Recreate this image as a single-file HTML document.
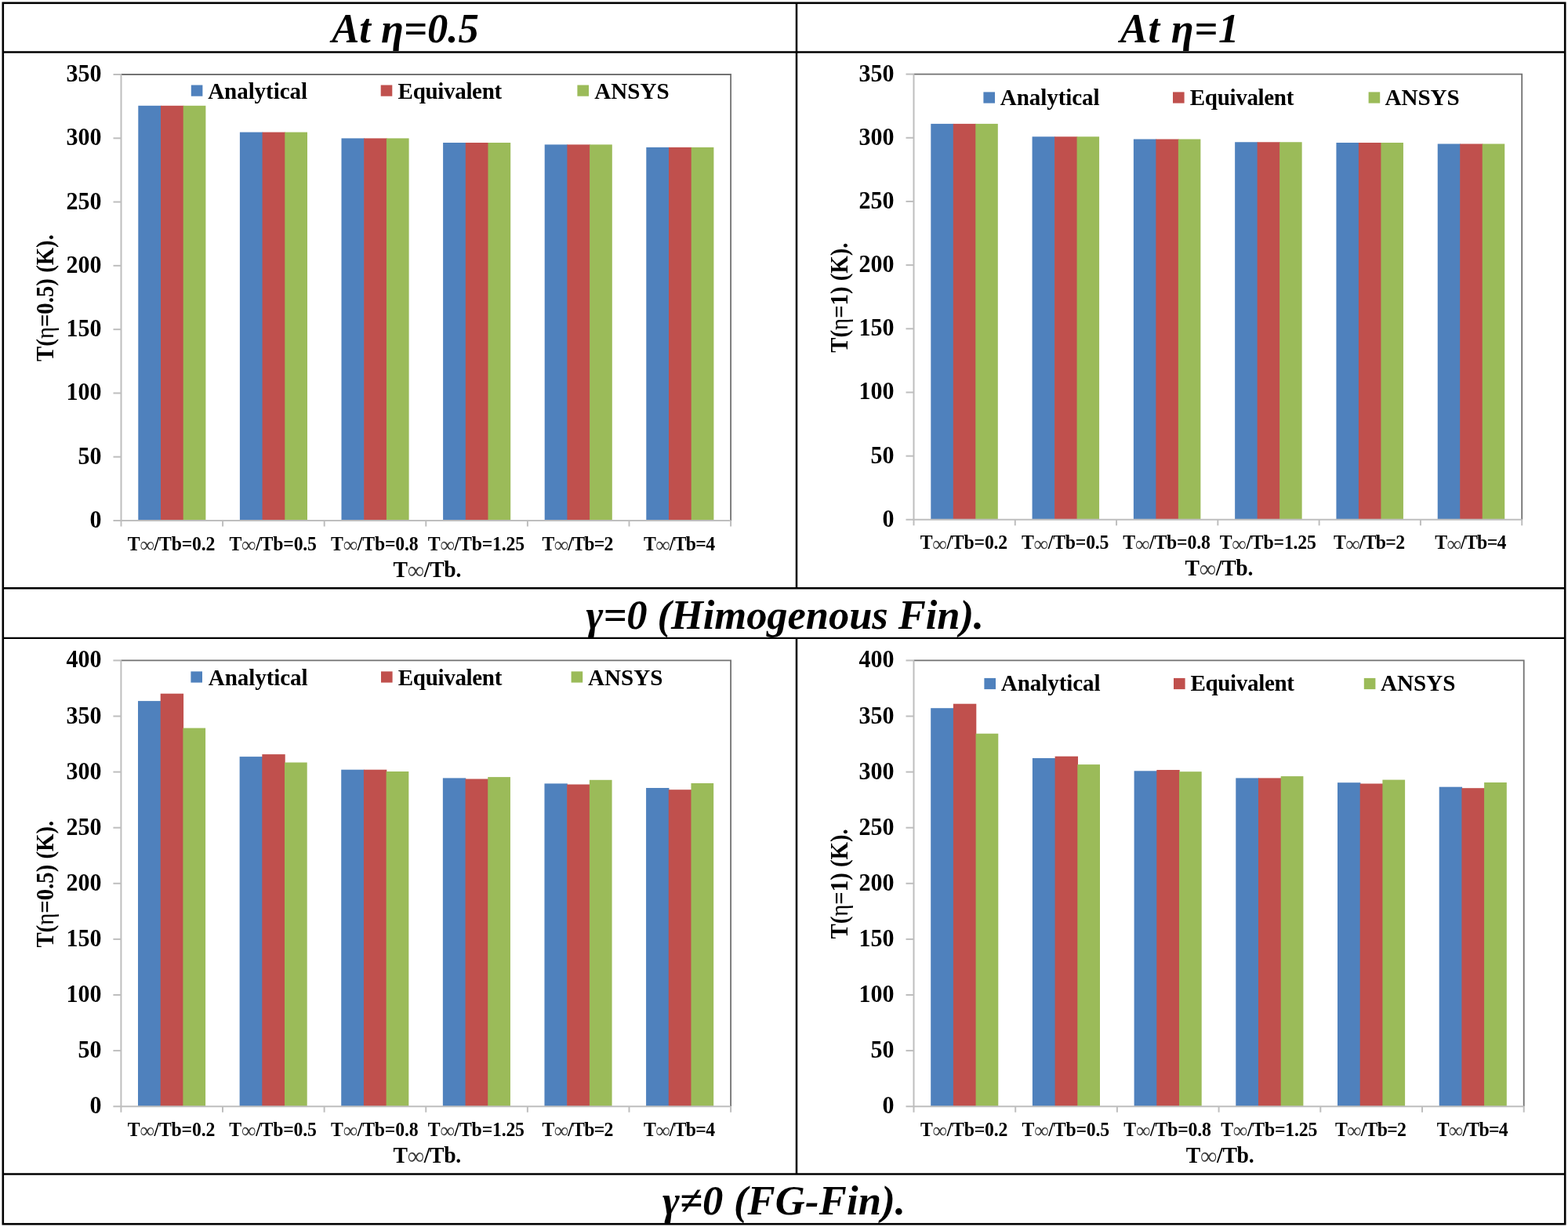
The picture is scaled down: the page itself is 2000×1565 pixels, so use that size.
<!DOCTYPE html>
<html><head><meta charset="utf-8"><title>Fin temperature comparison</title>
<style>
html,body{margin:0;padding:0;background:#fff;}
body{width:2000px;height:1565px;overflow:hidden;}
svg{display:block;}
text{font-family:'Liberation Serif', 'Times New Roman', serif;font-weight:bold;fill:#000;}
.yl{font-size:30.0px;text-anchor:end;}
.xl{font-size:23.8px;text-anchor:middle;letter-spacing:-0.2px;}
.xt{font-size:27.7px;text-anchor:middle;letter-spacing:-0.3px;}
.yt{font-size:28.8px;text-anchor:middle;}
.lg{font-size:29.1px;}
.inf{font-weight:normal;fill:#3a3a3a;font-size:1.08em;}
.eta{font-weight:normal;}
.hd{font-size:52.6px;font-style:italic;text-anchor:middle;}
</style></head>
<body>
<svg width="2000" height="1565" viewBox="0 0 2000 1565">
<rect width="2000" height="1565" fill="#fff"/>
<rect x="176.3" y="134.8" width="29.4" height="529.2" fill="#4F81BD"/>
<rect x="205" y="134.8" width="29.4" height="529.2" fill="#C0504D"/>
<rect x="233.7" y="134.8" width="28.7" height="529.2" fill="#9BBB59"/>
<rect x="305.9" y="168.6" width="29.4" height="495.4" fill="#4F81BD"/>
<rect x="334.6" y="168.6" width="29.4" height="495.4" fill="#C0504D"/>
<rect x="363.3" y="168.6" width="28.7" height="495.4" fill="#9BBB59"/>
<rect x="435.5" y="176.4" width="29.4" height="487.6" fill="#4F81BD"/>
<rect x="464.2" y="176.4" width="29.4" height="487.6" fill="#C0504D"/>
<rect x="492.9" y="176.4" width="28.7" height="487.6" fill="#9BBB59"/>
<rect x="565.1" y="182" width="29.4" height="482" fill="#4F81BD"/>
<rect x="593.8" y="182" width="29.4" height="482" fill="#C0504D"/>
<rect x="622.5" y="182" width="28.7" height="482" fill="#9BBB59"/>
<rect x="694.7" y="184.4" width="29.4" height="479.6" fill="#4F81BD"/>
<rect x="723.4" y="184.4" width="29.4" height="479.6" fill="#C0504D"/>
<rect x="752.1" y="184.4" width="28.7" height="479.6" fill="#9BBB59"/>
<rect x="824.3" y="187.9" width="29.4" height="476.1" fill="#4F81BD"/>
<rect x="853" y="187.9" width="29.4" height="476.1" fill="#C0504D"/>
<rect x="881.7" y="187.9" width="28.7" height="476.1" fill="#9BBB59"/>
<path d="M154.5 95 H932.1 V664" fill="none" stroke="#727272" stroke-width="1.8"/>
<path d="M154.5 95 V671.5" stroke="#BEBEBE" stroke-width="2"/>
<path d="M144.5 664 H932.1" stroke="#BEBEBE" stroke-width="2"/>
<text transform="translate(129.5 673) scale(1 1.050)" class="yl">0</text>
<path d="M144.5 582.71 H154.5" stroke="#BEBEBE" stroke-width="2"/>
<text transform="translate(129.5 591.71) scale(1 1.050)" class="yl">50</text>
<path d="M144.5 501.43 H154.5" stroke="#BEBEBE" stroke-width="2"/>
<text transform="translate(129.5 510.43) scale(1 1.050)" class="yl">100</text>
<path d="M144.5 420.14 H154.5" stroke="#BEBEBE" stroke-width="2"/>
<text transform="translate(129.5 429.14) scale(1 1.050)" class="yl">150</text>
<path d="M144.5 338.86 H154.5" stroke="#BEBEBE" stroke-width="2"/>
<text transform="translate(129.5 347.86) scale(1 1.050)" class="yl">200</text>
<path d="M144.5 257.57 H154.5" stroke="#BEBEBE" stroke-width="2"/>
<text transform="translate(129.5 266.57) scale(1 1.050)" class="yl">250</text>
<path d="M144.5 176.29 H154.5" stroke="#BEBEBE" stroke-width="2"/>
<text transform="translate(129.5 185.29) scale(1 1.050)" class="yl">300</text>
<path d="M144.5 95 H154.5" stroke="#BEBEBE" stroke-width="2"/>
<text transform="translate(129.5 104) scale(1 1.050)" class="yl">350</text>
<path d="M284.1 664 V671.5" stroke="#BEBEBE" stroke-width="2"/>
<path d="M413.7 664 V671.5" stroke="#BEBEBE" stroke-width="2"/>
<path d="M543.3 664 V671.5" stroke="#BEBEBE" stroke-width="2"/>
<path d="M672.9 664 V671.5" stroke="#BEBEBE" stroke-width="2"/>
<path d="M802.5 664 V671.5" stroke="#BEBEBE" stroke-width="2"/>
<path d="M932.1 664 V671.5" stroke="#BEBEBE" stroke-width="2"/>
<text transform="translate(218.5 701.6) scale(1 1.070)" class="xl">T<tspan class="inf" dy="2">∞</tspan><tspan dy="-2">/</tspan>Tb=0.2</text>
<text transform="translate(348.1 701.6) scale(1 1.070)" class="xl">T<tspan class="inf" dy="2">∞</tspan><tspan dy="-2">/</tspan>Tb=0.5</text>
<text transform="translate(477.7 701.6) scale(1 1.070)" class="xl">T<tspan class="inf" dy="2">∞</tspan><tspan dy="-2">/</tspan>Tb=0.8</text>
<text transform="translate(607.3 701.6) scale(1 1.070)" class="xl">T<tspan class="inf" dy="2">∞</tspan><tspan dy="-2">/</tspan>Tb=1.25</text>
<text transform="translate(736.9 701.6) scale(1 1.070)" class="xl" textLength="90.8">T<tspan class="inf" dy="2">∞</tspan><tspan dy="-2">/</tspan>Tb=2</text>
<text transform="translate(866.5 701.6) scale(1 1.070)" class="xl" textLength="90.8">T<tspan class="inf" dy="2">∞</tspan><tspan dy="-2">/</tspan>Tb=4</text>
<text transform="translate(544.8 735.5) scale(1 1.060)" class="xt">T<tspan class="inf" dy="2">∞</tspan><tspan dy="-2">/</tspan>Tb.</text>
<text transform="translate(67.7 380) rotate(-90) scale(1 1.085)" class="yt">T(<tspan class="eta">η</tspan>=0.5) (K).</text>
<rect x="243.8" y="108.5" width="14.6" height="14.2" fill="#4F81BD"/>
<text transform="translate(265.2 125.8) scale(1 1.040)" class="lg" textLength="126.8">Analytical</text>
<rect x="485.7" y="108.5" width="14.6" height="14.2" fill="#C0504D"/>
<text transform="translate(507.6 125.8) scale(1 1.040)" class="lg" textLength="132.6">Equivalent</text>
<rect x="736.4" y="108.5" width="14.6" height="14.2" fill="#9BBB59"/>
<text transform="translate(758.3 125.8) scale(1 1.040)" class="lg">ANSYS</text>
<rect x="1187.3" y="157.9" width="29.2" height="504.9" fill="#4F81BD"/>
<rect x="1215.8" y="157.9" width="29.2" height="504.9" fill="#C0504D"/>
<rect x="1244.3" y="157.9" width="28.5" height="504.9" fill="#9BBB59"/>
<rect x="1316.58" y="174.3" width="29.2" height="488.5" fill="#4F81BD"/>
<rect x="1345.08" y="174.3" width="29.2" height="488.5" fill="#C0504D"/>
<rect x="1373.58" y="174.3" width="28.5" height="488.5" fill="#9BBB59"/>
<rect x="1445.87" y="177.5" width="29.2" height="485.3" fill="#4F81BD"/>
<rect x="1474.37" y="177.5" width="29.2" height="485.3" fill="#C0504D"/>
<rect x="1502.87" y="177.5" width="28.5" height="485.3" fill="#9BBB59"/>
<rect x="1575.15" y="181.25" width="29.2" height="481.55" fill="#4F81BD"/>
<rect x="1603.65" y="181.25" width="29.2" height="481.55" fill="#C0504D"/>
<rect x="1632.15" y="181.25" width="28.5" height="481.55" fill="#9BBB59"/>
<rect x="1704.43" y="182" width="29.2" height="480.8" fill="#4F81BD"/>
<rect x="1732.93" y="182" width="29.2" height="480.8" fill="#C0504D"/>
<rect x="1761.43" y="182" width="28.5" height="480.8" fill="#9BBB59"/>
<rect x="1833.72" y="183.5" width="29.2" height="479.3" fill="#4F81BD"/>
<rect x="1862.22" y="183.5" width="29.2" height="479.3" fill="#C0504D"/>
<rect x="1890.72" y="183.5" width="28.5" height="479.3" fill="#9BBB59"/>
<path d="M1165.5 94.6 H1941.2 V662.8" fill="none" stroke="#727272" stroke-width="1.8"/>
<path d="M1165.5 94.6 V670.3" stroke="#BEBEBE" stroke-width="2"/>
<path d="M1155.5 662.8 H1941.2" stroke="#BEBEBE" stroke-width="2"/>
<text transform="translate(1140.5 671.8) scale(1 1.050)" class="yl">0</text>
<path d="M1155.5 581.63 H1165.5" stroke="#BEBEBE" stroke-width="2"/>
<text transform="translate(1140.5 590.63) scale(1 1.050)" class="yl">50</text>
<path d="M1155.5 500.46 H1165.5" stroke="#BEBEBE" stroke-width="2"/>
<text transform="translate(1140.5 509.46) scale(1 1.050)" class="yl">100</text>
<path d="M1155.5 419.29 H1165.5" stroke="#BEBEBE" stroke-width="2"/>
<text transform="translate(1140.5 428.29) scale(1 1.050)" class="yl">150</text>
<path d="M1155.5 338.11 H1165.5" stroke="#BEBEBE" stroke-width="2"/>
<text transform="translate(1140.5 347.11) scale(1 1.050)" class="yl">200</text>
<path d="M1155.5 256.94 H1165.5" stroke="#BEBEBE" stroke-width="2"/>
<text transform="translate(1140.5 265.94) scale(1 1.050)" class="yl">250</text>
<path d="M1155.5 175.77 H1165.5" stroke="#BEBEBE" stroke-width="2"/>
<text transform="translate(1140.5 184.77) scale(1 1.050)" class="yl">300</text>
<path d="M1155.5 94.6 H1165.5" stroke="#BEBEBE" stroke-width="2"/>
<text transform="translate(1140.5 103.6) scale(1 1.050)" class="yl">350</text>
<path d="M1294.78 662.8 V670.3" stroke="#BEBEBE" stroke-width="2"/>
<path d="M1424.07 662.8 V670.3" stroke="#BEBEBE" stroke-width="2"/>
<path d="M1553.35 662.8 V670.3" stroke="#BEBEBE" stroke-width="2"/>
<path d="M1682.63 662.8 V670.3" stroke="#BEBEBE" stroke-width="2"/>
<path d="M1811.92 662.8 V670.3" stroke="#BEBEBE" stroke-width="2"/>
<path d="M1941.2 662.8 V670.3" stroke="#BEBEBE" stroke-width="2"/>
<text transform="translate(1229.34 700.4) scale(1 1.070)" class="xl">T<tspan class="inf" dy="2">∞</tspan><tspan dy="-2">/</tspan>Tb=0.2</text>
<text transform="translate(1358.62 700.4) scale(1 1.070)" class="xl">T<tspan class="inf" dy="2">∞</tspan><tspan dy="-2">/</tspan>Tb=0.5</text>
<text transform="translate(1487.91 700.4) scale(1 1.070)" class="xl">T<tspan class="inf" dy="2">∞</tspan><tspan dy="-2">/</tspan>Tb=0.8</text>
<text transform="translate(1617.19 700.4) scale(1 1.070)" class="xl">T<tspan class="inf" dy="2">∞</tspan><tspan dy="-2">/</tspan>Tb=1.25</text>
<text transform="translate(1746.48 700.4) scale(1 1.070)" class="xl" textLength="90.8">T<tspan class="inf" dy="2">∞</tspan><tspan dy="-2">/</tspan>Tb=2</text>
<text transform="translate(1875.76 700.4) scale(1 1.070)" class="xl" textLength="90.8">T<tspan class="inf" dy="2">∞</tspan><tspan dy="-2">/</tspan>Tb=4</text>
<text transform="translate(1554.85 734.3) scale(1 1.060)" class="xt">T<tspan class="inf" dy="2">∞</tspan><tspan dy="-2">/</tspan>Tb.</text>
<text transform="translate(1081 379.6) rotate(-90) scale(1 1.085)" class="yt">T(<tspan class="eta">η</tspan>=1) (K).</text>
<rect x="1254.4" y="117.4" width="14.6" height="14.2" fill="#4F81BD"/>
<text transform="translate(1275.8 134) scale(1 1.040)" class="lg" textLength="126.8">Analytical</text>
<rect x="1496" y="117.4" width="14.6" height="14.2" fill="#C0504D"/>
<text transform="translate(1517.8 134) scale(1 1.040)" class="lg" textLength="132.6">Equivalent</text>
<rect x="1745.6" y="117.4" width="14.6" height="14.2" fill="#9BBB59"/>
<text transform="translate(1766.4 134) scale(1 1.040)" class="lg">ANSYS</text>
<rect x="176" y="894.1" width="29.4" height="517.1" fill="#4F81BD"/>
<rect x="204.7" y="884.7" width="29.4" height="526.5" fill="#C0504D"/>
<rect x="233.4" y="928.6" width="28.7" height="482.6" fill="#9BBB59"/>
<rect x="305.62" y="965.1" width="29.4" height="446.1" fill="#4F81BD"/>
<rect x="334.32" y="962.1" width="29.4" height="449.1" fill="#C0504D"/>
<rect x="363.02" y="972.5" width="28.7" height="438.7" fill="#9BBB59"/>
<rect x="435.23" y="981.7" width="29.4" height="429.5" fill="#4F81BD"/>
<rect x="463.93" y="981.7" width="29.4" height="429.5" fill="#C0504D"/>
<rect x="492.63" y="984" width="28.7" height="427.2" fill="#9BBB59"/>
<rect x="564.85" y="992.4" width="29.4" height="418.8" fill="#4F81BD"/>
<rect x="593.55" y="993.5" width="29.4" height="417.7" fill="#C0504D"/>
<rect x="622.25" y="991.1" width="28.7" height="420.1" fill="#9BBB59"/>
<rect x="694.47" y="999.4" width="29.4" height="411.8" fill="#4F81BD"/>
<rect x="723.17" y="1000.5" width="29.4" height="410.7" fill="#C0504D"/>
<rect x="751.87" y="994.8" width="28.7" height="416.4" fill="#9BBB59"/>
<rect x="824.08" y="1005" width="29.4" height="406.2" fill="#4F81BD"/>
<rect x="852.78" y="1007.2" width="29.4" height="404" fill="#C0504D"/>
<rect x="881.48" y="999" width="28.7" height="412.2" fill="#9BBB59"/>
<path d="M154.4 842.4 H932.1 V1411.2" fill="none" stroke="#727272" stroke-width="1.8"/>
<path d="M154.4 842.4 V1418.7" stroke="#BEBEBE" stroke-width="2"/>
<path d="M144.4 1411.2 H932.1" stroke="#BEBEBE" stroke-width="2"/>
<text transform="translate(129.4 1420.2) scale(1 1.050)" class="yl">0</text>
<path d="M144.4 1340.1 H154.4" stroke="#BEBEBE" stroke-width="2"/>
<text transform="translate(129.4 1349.1) scale(1 1.050)" class="yl">50</text>
<path d="M144.4 1269 H154.4" stroke="#BEBEBE" stroke-width="2"/>
<text transform="translate(129.4 1278) scale(1 1.050)" class="yl">100</text>
<path d="M144.4 1197.9 H154.4" stroke="#BEBEBE" stroke-width="2"/>
<text transform="translate(129.4 1206.9) scale(1 1.050)" class="yl">150</text>
<path d="M144.4 1126.8 H154.4" stroke="#BEBEBE" stroke-width="2"/>
<text transform="translate(129.4 1135.8) scale(1 1.050)" class="yl">200</text>
<path d="M144.4 1055.7 H154.4" stroke="#BEBEBE" stroke-width="2"/>
<text transform="translate(129.4 1064.7) scale(1 1.050)" class="yl">250</text>
<path d="M144.4 984.6 H154.4" stroke="#BEBEBE" stroke-width="2"/>
<text transform="translate(129.4 993.6) scale(1 1.050)" class="yl">300</text>
<path d="M144.4 913.5 H154.4" stroke="#BEBEBE" stroke-width="2"/>
<text transform="translate(129.4 922.5) scale(1 1.050)" class="yl">350</text>
<path d="M144.4 842.4 H154.4" stroke="#BEBEBE" stroke-width="2"/>
<text transform="translate(129.4 851.4) scale(1 1.050)" class="yl">400</text>
<path d="M284.02 1411.2 V1418.7" stroke="#BEBEBE" stroke-width="2"/>
<path d="M413.63 1411.2 V1418.7" stroke="#BEBEBE" stroke-width="2"/>
<path d="M543.25 1411.2 V1418.7" stroke="#BEBEBE" stroke-width="2"/>
<path d="M672.87 1411.2 V1418.7" stroke="#BEBEBE" stroke-width="2"/>
<path d="M802.48 1411.2 V1418.7" stroke="#BEBEBE" stroke-width="2"/>
<path d="M932.1 1411.2 V1418.7" stroke="#BEBEBE" stroke-width="2"/>
<text transform="translate(218.41 1448.8) scale(1 1.070)" class="xl">T<tspan class="inf" dy="2">∞</tspan><tspan dy="-2">/</tspan>Tb=0.2</text>
<text transform="translate(348.03 1448.8) scale(1 1.070)" class="xl">T<tspan class="inf" dy="2">∞</tspan><tspan dy="-2">/</tspan>Tb=0.5</text>
<text transform="translate(477.64 1448.8) scale(1 1.070)" class="xl">T<tspan class="inf" dy="2">∞</tspan><tspan dy="-2">/</tspan>Tb=0.8</text>
<text transform="translate(607.26 1448.8) scale(1 1.070)" class="xl">T<tspan class="inf" dy="2">∞</tspan><tspan dy="-2">/</tspan>Tb=1.25</text>
<text transform="translate(736.88 1448.8) scale(1 1.070)" class="xl" textLength="90.8">T<tspan class="inf" dy="2">∞</tspan><tspan dy="-2">/</tspan>Tb=2</text>
<text transform="translate(866.49 1448.8) scale(1 1.070)" class="xl" textLength="90.8">T<tspan class="inf" dy="2">∞</tspan><tspan dy="-2">/</tspan>Tb=4</text>
<text transform="translate(544.75 1482.7) scale(1 1.060)" class="xt">T<tspan class="inf" dy="2">∞</tspan><tspan dy="-2">/</tspan>Tb.</text>
<text transform="translate(67.7 1127.7) rotate(-90) scale(1 1.085)" class="yt">T(<tspan class="eta">η</tspan>=0.5) (K).</text>
<rect x="243.4" y="856.4" width="14.6" height="14.2" fill="#4F81BD"/>
<text transform="translate(265.8 873.8) scale(1 1.040)" class="lg" textLength="126.8">Analytical</text>
<rect x="486" y="856.4" width="14.6" height="14.2" fill="#C0504D"/>
<text transform="translate(507.8 873.8) scale(1 1.040)" class="lg" textLength="132.6">Equivalent</text>
<rect x="728.6" y="856.4" width="14.6" height="14.2" fill="#9BBB59"/>
<text transform="translate(750 873.8) scale(1 1.040)" class="lg">ANSYS</text>
<rect x="1187.2" y="903.2" width="29.4" height="508" fill="#4F81BD"/>
<rect x="1215.9" y="897.7" width="29.4" height="513.5" fill="#C0504D"/>
<rect x="1244.6" y="935.7" width="28.7" height="475.5" fill="#9BBB59"/>
<rect x="1316.9" y="967" width="29.4" height="444.2" fill="#4F81BD"/>
<rect x="1345.6" y="964.7" width="29.4" height="446.5" fill="#C0504D"/>
<rect x="1374.3" y="975.1" width="28.7" height="436.1" fill="#9BBB59"/>
<rect x="1446.6" y="983.3" width="29.4" height="427.9" fill="#4F81BD"/>
<rect x="1475.3" y="982" width="29.4" height="429.2" fill="#C0504D"/>
<rect x="1504" y="984.2" width="28.7" height="427" fill="#9BBB59"/>
<rect x="1576.3" y="992.4" width="29.4" height="418.8" fill="#4F81BD"/>
<rect x="1605" y="992.4" width="29.4" height="418.8" fill="#C0504D"/>
<rect x="1633.7" y="990.1" width="28.7" height="421.1" fill="#9BBB59"/>
<rect x="1706" y="998.2" width="29.4" height="413" fill="#4F81BD"/>
<rect x="1734.7" y="999.5" width="29.4" height="411.7" fill="#C0504D"/>
<rect x="1763.4" y="994.6" width="28.7" height="416.6" fill="#9BBB59"/>
<rect x="1835.7" y="1003.7" width="29.4" height="407.5" fill="#4F81BD"/>
<rect x="1864.4" y="1005.2" width="29.4" height="406" fill="#C0504D"/>
<rect x="1893.1" y="998" width="28.7" height="413.2" fill="#9BBB59"/>
<path d="M1165.5 842.4 H1943.7 V1411.2" fill="none" stroke="#727272" stroke-width="1.8"/>
<path d="M1165.5 842.4 V1418.7" stroke="#BEBEBE" stroke-width="2"/>
<path d="M1155.5 1411.2 H1943.7" stroke="#BEBEBE" stroke-width="2"/>
<text transform="translate(1140.5 1420.2) scale(1 1.050)" class="yl">0</text>
<path d="M1155.5 1340.1 H1165.5" stroke="#BEBEBE" stroke-width="2"/>
<text transform="translate(1140.5 1349.1) scale(1 1.050)" class="yl">50</text>
<path d="M1155.5 1269 H1165.5" stroke="#BEBEBE" stroke-width="2"/>
<text transform="translate(1140.5 1278) scale(1 1.050)" class="yl">100</text>
<path d="M1155.5 1197.9 H1165.5" stroke="#BEBEBE" stroke-width="2"/>
<text transform="translate(1140.5 1206.9) scale(1 1.050)" class="yl">150</text>
<path d="M1155.5 1126.8 H1165.5" stroke="#BEBEBE" stroke-width="2"/>
<text transform="translate(1140.5 1135.8) scale(1 1.050)" class="yl">200</text>
<path d="M1155.5 1055.7 H1165.5" stroke="#BEBEBE" stroke-width="2"/>
<text transform="translate(1140.5 1064.7) scale(1 1.050)" class="yl">250</text>
<path d="M1155.5 984.6 H1165.5" stroke="#BEBEBE" stroke-width="2"/>
<text transform="translate(1140.5 993.6) scale(1 1.050)" class="yl">300</text>
<path d="M1155.5 913.5 H1165.5" stroke="#BEBEBE" stroke-width="2"/>
<text transform="translate(1140.5 922.5) scale(1 1.050)" class="yl">350</text>
<path d="M1155.5 842.4 H1165.5" stroke="#BEBEBE" stroke-width="2"/>
<text transform="translate(1140.5 851.4) scale(1 1.050)" class="yl">400</text>
<path d="M1295.2 1411.2 V1418.7" stroke="#BEBEBE" stroke-width="2"/>
<path d="M1424.9 1411.2 V1418.7" stroke="#BEBEBE" stroke-width="2"/>
<path d="M1554.6 1411.2 V1418.7" stroke="#BEBEBE" stroke-width="2"/>
<path d="M1684.3 1411.2 V1418.7" stroke="#BEBEBE" stroke-width="2"/>
<path d="M1814 1411.2 V1418.7" stroke="#BEBEBE" stroke-width="2"/>
<path d="M1943.7 1411.2 V1418.7" stroke="#BEBEBE" stroke-width="2"/>
<text transform="translate(1229.55 1448.8) scale(1 1.070)" class="xl">T<tspan class="inf" dy="2">∞</tspan><tspan dy="-2">/</tspan>Tb=0.2</text>
<text transform="translate(1359.25 1448.8) scale(1 1.070)" class="xl">T<tspan class="inf" dy="2">∞</tspan><tspan dy="-2">/</tspan>Tb=0.5</text>
<text transform="translate(1488.95 1448.8) scale(1 1.070)" class="xl">T<tspan class="inf" dy="2">∞</tspan><tspan dy="-2">/</tspan>Tb=0.8</text>
<text transform="translate(1618.65 1448.8) scale(1 1.070)" class="xl">T<tspan class="inf" dy="2">∞</tspan><tspan dy="-2">/</tspan>Tb=1.25</text>
<text transform="translate(1748.35 1448.8) scale(1 1.070)" class="xl" textLength="90.8">T<tspan class="inf" dy="2">∞</tspan><tspan dy="-2">/</tspan>Tb=2</text>
<text transform="translate(1878.05 1448.8) scale(1 1.070)" class="xl" textLength="90.8">T<tspan class="inf" dy="2">∞</tspan><tspan dy="-2">/</tspan>Tb=4</text>
<text transform="translate(1556.1 1482.7) scale(1 1.060)" class="xt">T<tspan class="inf" dy="2">∞</tspan><tspan dy="-2">/</tspan>Tb.</text>
<text transform="translate(1081 1127.4) rotate(-90) scale(1 1.085)" class="yt">T(<tspan class="eta">η</tspan>=1) (K).</text>
<rect x="1255.4" y="864.9" width="14.6" height="14.2" fill="#4F81BD"/>
<text transform="translate(1276.8 880.8) scale(1 1.040)" class="lg" textLength="126.8">Analytical</text>
<rect x="1497" y="864.9" width="14.6" height="14.2" fill="#C0504D"/>
<text transform="translate(1518.4 880.8) scale(1 1.040)" class="lg" textLength="132.6">Equivalent</text>
<rect x="1739.8" y="864.9" width="14.6" height="14.2" fill="#9BBB59"/>
<text transform="translate(1761 880.8) scale(1 1.040)" class="lg">ANSYS</text>
<g stroke="#000" fill="none">
<rect x="3.8" y="3.8" width="1992.4" height="1557.4" stroke-width="2.6"/>
<path d="M3.8 66.5H1996.2" stroke-width="2.6"/>
<path d="M3.8 750.2H1996.2" stroke-width="2.4"/>
<path d="M3.8 813.9H1996.2" stroke-width="2.4"/>
<path d="M3.8 1497.5H1996.2" stroke-width="2.6"/>
<path d="M1016 3.8V750.2" stroke-width="2.5"/>
<path d="M1016 813.9V1497.5" stroke-width="2.5"/>
</g>
<text x="517" y="53.6" class="hd">At η=0.5</text>
<text x="1504.5" y="54" class="hd" textLength="151.5">At η=1</text>
<text x="1001.3" y="802" class="hd" textLength="507.4">γ=0 (Himogenous Fin).</text>
<text x="1000" y="1548.5" class="hd" textLength="310">γ≠0 (FG-Fin).</text>
</svg>
</body></html>
